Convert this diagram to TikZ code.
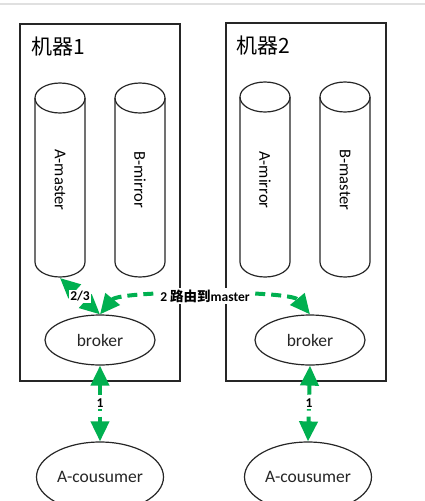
\documentclass[tikz,border=0pt]{standalone}
\usepackage{fontspec}
\setmainfont{Carlito}
\newfontfamily\cjk{Noto Sans CJK SC}
\usetikzlibrary{shapes.geometric,arrows.meta}
\definecolor{ggreen}{HTML}{00B050}
\newcommand\mycyl[4]{%
  \draw[outl] (#2-25,#3+15) -- (#2-25,262) arc[start angle=180,end angle=0,x radius=25,y radius=15] -- (#2+25,#3+15);
  \draw[outl] (#2,#3+15) ellipse [x radius=25,y radius=15];
  \node[cyltext] (#1t) at (#2,180) {#4};
  \coordinate (#1b) at (#2,278);
}
\begin{document}
\begin{tikzpicture}[x=1pt,y=-1pt,
  outl/.style={draw=black!85,line width=1.2pt},
  machine/.style={outl,rectangle,inner sep=0pt},
  cyltext/.style={rotate=-90,font=\fontsize{16.5}{18}\selectfont,inner sep=1pt},
  ell/.style={outl,ellipse,inner sep=0pt,font=\fontsize{17.5}{20}\selectfont,text=black!85},
  title/.style={anchor=west,inner sep=0pt,font=\cjk\fontsize{21}{24}\selectfont},
  garrow/.style={draw=ggreen,line width=4pt,dash pattern=on 10pt off 6pt,
    {Triangle[length=20pt,width=18pt]}-{Triangle[length=20pt,width=18pt]}},
  lab/.style={fill=white,inner sep=1.5pt,font=\bfseries\fontsize{13.5}{15}\selectfont},
]
\clip (0,0) rectangle (425,501);
\fill[white] (0,0) rectangle (425,501);
\draw[black!12,line width=2pt] (0,4) -- (425,4);

% machines
\node[machine,minimum width=160pt,minimum height=357pt] (m1) at (100,202.5) {};
\node[machine,minimum width=160pt,minimum height=358pt] (m2) at (306,202) {};
\node[title] (t1) at (31,47) {机器1};
\node[title] (t2) at (236,46) {机器2};

% cylinders
\mycyl{am}{60}{83}{A-master}
\mycyl{bm}{140}{83}{B-mirror}
\mycyl{ami}{265}{82}{A-mirror}
\mycyl{bma}{345}{82}{B-master}

% brokers and consumers
\node[ell,minimum width=110pt,minimum height=50pt] (b1) at (100,340) {broker};
\node[ell,minimum width=110pt,minimum height=50pt] (b2) at (310,340) {broker};
\node[ell,minimum width=127pt,minimum height=70pt] (c1) at (100,477) {A-cousumer};
\node[ell,minimum width=127pt,minimum height=70pt] (c2) at (308,477) {A-cousumer};

% arrows
\draw[garrow] (b1.south) -- (c1.north) node[midway,lab] {1};
\draw[garrow] (b2.south) -- (c2.north) node[midway,lab] {1};
\draw[garrow] (amb) -- (b1.north) node[midway,lab] {2/3};
\draw[garrow] (b1.north) .. controls (120,290) and (290,290) .. (b2.north)
  node[pos=0.5,lab] {2 {\cjk 路由到}master};
\end{tikzpicture}
\end{document}
